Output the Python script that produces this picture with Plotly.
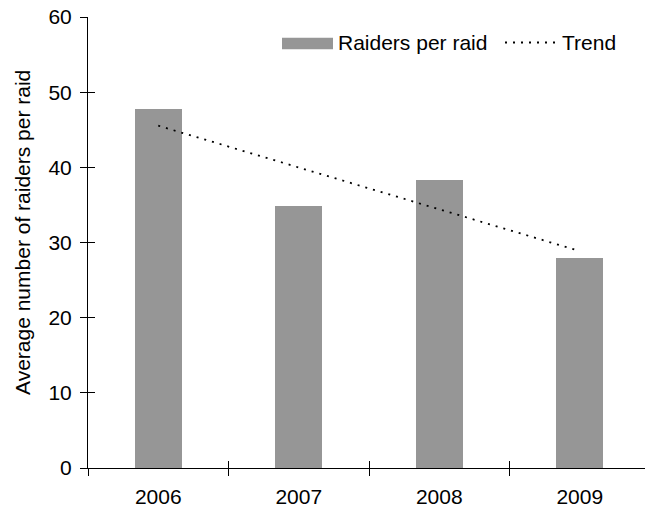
import numpy as np
import plotly.graph_objects as go

# Average number of raiders per raid by year
years = ["2006", "2007", "2008", "2009"]
raiders_per_raid = [47.7, 34.8, 38.3, 28.0]
y_tick_values = [0, 10, 20, 30, 40, 50, 60]

# Linear least-squares trend over the yearly values
idx = np.arange(len(years))
slope, intercept = np.polyfit(idx, raiders_per_raid, 1)
trend_values = intercept + slope * idx

W, H = 645, 511
L, R, T, B = 88, 0, 17, 43
CAT_PX = 140.5  # pixel width of one category slot
FONT = dict(family="Liberation Sans, Arial, sans-serif", size=21, color="#000000")
BAR_COLOR = "#969696"
DOT_DASH = "2px,6px"


def paper_x(px):
    return (px - L) / (W - L - R)


def paper_y(py):
    return (H - B - py) / (H - T - B)


x_end = -0.5 + (W - L - R) / CAT_PX

fig = go.Figure()
fig.add_trace(go.Bar(
    x=years, y=raiders_per_raid, name="Raiders per raid",
    marker=dict(color=BAR_COLOR, line=dict(width=0)),
    width=0.334, showlegend=False,
))
fig.add_trace(go.Scatter(
    x=years, y=trend_values, name="Trend", mode="lines",
    line=dict(color="#000000", width=1.8, dash=DOT_DASH),
    showlegend=False,
))
# empty trace that makes the overlay axes (inner tick halves) render
fig.add_trace(go.Scatter(x=[], y=[], xaxis="x2", yaxis="y2",
                         showlegend=False, hoverinfo="skip"))

axis_common = dict(showgrid=False, zeroline=False, linecolor="#000000",
                   linewidth=1, tickcolor="#000000", tickwidth=1, ticklen=7)

fig.update_layout(
    width=W, height=H,
    margin=dict(l=L, r=R, t=T, b=B, pad=0),
    paper_bgcolor="white", plot_bgcolor="white",
    font=FONT,
    bargap=0,
    xaxis=dict(type="category", range=[-0.5, x_end], showline=True,
               ticks="outside", tickson="boundaries", tickfont=FONT,
               ticklabelstandoff=10, **axis_common),
    yaxis=dict(range=[0, 60], tickvals=y_tick_values, showline=True,
               ticks="outside", tickfont=FONT, ticklabelstandoff=4,
               **axis_common),
    # inside tick halves so the tick marks cross the axis lines
    xaxis2=dict(overlaying="x", anchor="y2", range=[-0.5, x_end],
                tickvals=[-0.5, 0.5, 1.5, 2.5, 3.5],
                ticks="inside", showticklabels=False, showline=False,
                **axis_common),
    yaxis2=dict(overlaying="y", anchor="x2", range=[0, 60], tickvals=y_tick_values,
                ticks="inside", showticklabels=False, showline=False,
                **axis_common),
)

# Axis title
fig.add_annotation(
    text="Average number of raiders per raid", textangle=-90,
    xref="paper", yref="paper", x=paper_x(23), y=paper_y(233),
    xanchor="center", yanchor="middle", showarrow=False, font=FONT,
)

# Legend: bar swatch, dotted line sample and labels
fig.add_shape(type="rect", xref="paper", yref="paper",
              x0=paper_x(282), x1=paper_x(333), y0=paper_y(49.3), y1=paper_y(37.7),
              fillcolor=BAR_COLOR, line=dict(width=0))
fig.add_annotation(text="Raiders per raid", xref="paper", yref="paper",
                   x=paper_x(336), y=paper_y(43), xanchor="left", yanchor="middle",
                   showarrow=False, font=FONT)
fig.add_shape(type="line", xref="paper", yref="paper",
              x0=paper_x(505), x1=paper_x(560), y0=paper_y(42.5), y1=paper_y(42.5),
              line=dict(color="#000000", width=1.8, dash=DOT_DASH))
fig.add_annotation(text="Trend", xref="paper", yref="paper",
                   x=paper_x(560), y=paper_y(43), xanchor="left", yanchor="middle",
                   showarrow=False, font=FONT)

fig.write_html("out.html")
